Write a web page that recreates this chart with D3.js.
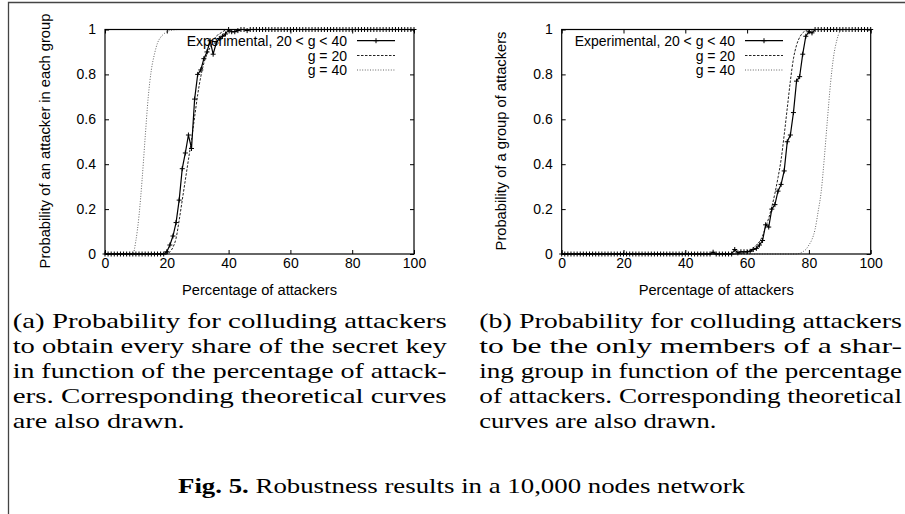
<!DOCTYPE html>
<html><head><meta charset="utf-8">
<script src="https://cdn.jsdelivr.net/npm/d3@7"></script>
<style>
html,body{margin:0;padding:0;background:#fff;}
svg{display:block;}
.sans{font-family:"Liberation Sans", Arial, Helvetica, sans-serif;font-size:14px;}
.title{font-family:"Liberation Sans", Arial, Helvetica, sans-serif;font-size:14.7px;}
.serif{font-family:"Liberation Serif", "Times New Roman", serif;font-size:22px;}
</style></head>
<body>
<svg id="fig" width="905" height="514"></svg>
<script>
// ---------------- DATA ----------------
const percentages = [0,1,2,3,4,5,6,7,8,9,10,11,12,13,14,15,16,17,18,19,20,21,22,23,24,25,26,27,28,29,30,31,32,33,34,35,36,37,38,39,40,41,42,43,44,45,46,47,48,49,50,51,52,53,54,55,56,57,58,59,60,61,62,63,64,65,66,67,68,69,70,71,72,73,74,75,76,77,78,79,80,81,82,83,84,85,86,87,88,89,90,91,92,93,94,95,96,97,98,99,100];

// (a) experimental: probability of an attacker in each group
const leftExperimental = [0,0,0,0,0,0,0,0,0,0, 0,0,0,0,0,0,0,0,0,0,
  0.01,0.04,0.08,0.14,0.24,0.38,0.45,0.53,0.47,0.69,
  0.80,0.82,0.87,0.90,0.95,0.89,0.94,0.96,0.97,0.98,
  1,0.99,0.99,0.995,1,1,0.995,1,1,1,
  1,1,1,1,1,1,1,1,1,1, 1,1,1,1,1,1,1,1,1,1,
  1,1,1,1,1,1,1,1,1,1, 1,1,1,1,1,1,1,1,1,1,
  1,1,1,1,1,1,1,1,1,1, 1];

// (b) experimental: probability of a group of attackers
const rightExperimental = [0,0,0,0,0,0,0,0,0,0, 0,0,0,0,0,0,0,0,0,0,
  0,0,0,0,0,0,0,0,0,0, 0,0,0,0,0,0,0,0,0,0,
  0,0,0,0,0,0,0,0,0,0.008,
  0,0,0,0,0,0,0.02,0.005,0.01,0.01,
  0.01,0.012,0.02,0.025,0.04,0.06,0.13,0.12,0.20,0.22,
  0.28,0.31,0.37,0.50,0.53,0.63,0.77,0.79,0.89,0.97,
  0.99,0.985,1,1,1,1,1,1,1,1, 1,1,1,1,1,1,1,1,1,1, 1];

// theoretical curves, [percentage, probability]
const leftG20 = [[0,0],[20,0],[21,0.01],[22,0.03],[23,0.07],[24,0.15],[25,0.24],[26,0.33],[27,0.42],[28,0.51],[29,0.61],[30,0.71],[31,0.79],[32,0.85],[33,0.89],[34,0.92],[35,0.95],[36,0.97],[37,0.98],[38,0.99],[40,1],[100,1]];
const leftG40 = [[0,0],[9,0],[10,0.06],[11,0.17],[12,0.33],[13,0.52],[14,0.70],[15,0.82],[16,0.89],[17,0.94],[18,0.965],[19,0.98],[20,0.99],[22,0.998],[24,1],[100,1]];
const rightG20 = [[0,0],[56,0],[58,0.003],[60,0.01],[61,0.018],[62,0.028],[63,0.04],[64,0.055],[65,0.08],[66,0.12],[67,0.16],[68,0.21],[69,0.27],[70,0.34],[71,0.42],[72,0.53],[73,0.65],[74,0.77],[75,0.87],[76,0.93],[77,0.965],[78,0.985],[79,0.995],[80,1],[100,1]];
const rightG40 = [[0,0],[76,0],[78,0.01],[79,0.02],[80,0.04],[81,0.065],[82,0.11],[83,0.19],[84,0.28],[85,0.43],[86,0.60],[87,0.76],[88,0.88],[89,0.95],[90,0.99],[91,1],[100,1]];

const xTicks = [0,20,40,60,80,100];
const yTicks = [0,0.2,0.4,0.6,0.8,1];
const yTickLabels = ["0","0.2","0.4","0.6","0.8","1"];
const legendLabels = ["Experimental, 20 < g < 40","g = 20","g = 40"];
const xAxisTitle = "Percentage of attackers";
const yAxisTitles = ["Probability of an attacker in each group","Probability of a group of attackers"];

const captionA = ["(a) Probability for colluding attackers","to obtain every share of the secret key","in function of the percentage of attack-","ers. Corresponding theoretical curves","are also drawn."];
const captionB = ["(b) Probability for colluding attackers","to be the only members of a shar-","ing group in function of the percentage","of attackers. Corresponding theoretical","curves are also drawn."];
const figLabel = "Fig. 5.";
const figText = " Robustness results in a 10,000 nodes network";

// ---------------- DRAW ----------------
const svg = d3.select("#fig");

// outer frame (cropped box)
svg.append("path").attr("d","M8.5,514V2.5H905").attr("fill","none").attr("stroke","#444").attr("stroke-width",1.3);

function drawPanel(cfg){
  const x = d3.scaleLinear().domain([0,100]).range([cfg.x0,cfg.x1]);
  const y = d3.scaleLinear().domain([0,1]).range([254,29.5]);
  const g = svg.append("g");

  const fmtY = d => yTickLabels[yTicks.indexOf(d)];
  const bottom = g.append("g").attr("transform",`translate(0,254)`)
    .call(d3.axisBottom(x).tickValues(xTicks).tickSize(-4).tickPadding(4.5));
  const top = g.append("g").attr("transform",`translate(0,29.5)`)
    .call(d3.axisTop(x).tickValues(xTicks).tickSize(-4).tickFormat(""));
  const left = g.append("g").attr("transform",`translate(${cfg.x0},0)`)
    .call(d3.axisLeft(y).tickValues(yTicks).tickSize(-4).tickPadding(9).tickFormat(fmtY));
  const right = g.append("g").attr("transform",`translate(${cfg.x1},0)`)
    .call(d3.axisRight(y).tickValues(yTicks).tickSize(-4).tickFormat(""));
  [bottom,top,left,right].forEach(a=>{
    a.attr("font-family",null).attr("font-size",null);
    a.select(".domain").remove();
    a.selectAll("line").attr("stroke","#000").attr("stroke-width",1);
    a.selectAll("text").attr("class","sans").attr("fill","#000");
  });

  // theoretical curves
  const line = d3.line().x(d=>x(d[0])).y(d=>y(d[1])).curve(d3.curveMonotoneX);
  g.append("path").datum(cfg.g40).attr("d",line).attr("fill","none")
    .attr("stroke","#666").attr("stroke-width",1).attr("stroke-dasharray","1,1.6");
  g.append("path").datum(cfg.g20).attr("d",line).attr("fill","none")
    .attr("stroke","#222").attr("stroke-width",1).attr("stroke-dasharray","2.5,1.5");

  // experimental curve
  const pts = percentages.map((p,i)=>[p,cfg.exp[i]]);
  const eline = d3.line().x(d=>x(d[0])).y(d=>y(d[1]));
  g.append("path").datum(pts).attr("d",eline).attr("fill","none")
    .attr("stroke","#000").attr("stroke-width",1.2);
  g.selectAll(".mk").data(pts).enter().append("path")
    .attr("transform",d=>`translate(${x(d[0])},${y(d[1])})`)
    .attr("d","M-2.5,0H2.5M0,-2.5V2.5").attr("stroke","#000").attr("stroke-width",1);

  // plot box
  g.append("rect").attr("x",cfg.x0).attr("y",29.5).attr("width",cfg.x1-cfg.x0).attr("height",254-29.5)
    .attr("fill","none").attr("stroke","#000").attr("stroke-width",1.2);

  // legend
  const rows = [40.7,55.5,70];
  const styles = [
    {stroke:"#000",dash:null,w:1.2},
    {stroke:"#222",dash:"2.5,1.5",w:1},
    {stroke:"#666",dash:"1,1.6",w:1}
  ];
  legendLabels.forEach((lab,i)=>{
    g.append("text").attr("class","sans").attr("x",cfg.legTextX).attr("y",rows[i]+5).attr("text-anchor","end")
      .attr("fill","#000").text(lab);
    g.append("line").attr("x1",cfg.legX0).attr("x2",cfg.legX1).attr("y1",rows[i]).attr("y2",rows[i])
      .attr("stroke",styles[i].stroke).attr("stroke-width",styles[i].w)
      .attr("stroke-dasharray",styles[i].dash);
  });
  g.append("path").attr("transform",`translate(${(cfg.legX0+cfg.legX1)/2},${rows[0]})`)
    .attr("d","M-2.5,0H2.5M0,-2.5V2.5").attr("stroke","#000").attr("stroke-width",1);

  // axis titles
  g.append("text").attr("class","title").attr("x",(cfg.x0+cfg.x1)/2).attr("y",295).attr("text-anchor","middle")
    .attr("fill","#000").text(xAxisTitle);
  g.append("text").attr("class","title").attr("transform",`translate(${cfg.yTitleX},141) rotate(-90)`).attr("text-anchor","middle")
    .attr("fill","#000").text(cfg.yTitle);

  // sub-caption
  const bases = [328,353,378,403,428];
  cfg.caption.forEach((t,i)=>{
    const last = i===cfg.caption.length-1;
    svg.append("text").attr("class","serif").attr("x",cfg.capX).attr("y",bases[i])
      .attr("fill","#000")
      .attr("textLength", last ? cfg.capLastW : cfg.capW)
      .attr("lengthAdjust","spacingAndGlyphs").text(t);
  });
}

drawPanel({x0:105,x1:414,exp:leftExperimental,g20:leftG20,g40:leftG40,
  legTextX:347,legX0:357,legX1:395,yTitleX:50,yTitle:yAxisTitles[0],
  caption:captionA,capX:12.7,capW:434,capLastW:172});
drawPanel({x0:561.7,x1:870.7,exp:rightExperimental,g20:rightG20,g40:rightG40,
  legTextX:735,legX0:745,legX1:783,yTitleX:505.5,yTitle:yAxisTitles[1],
  caption:captionB,capX:479.3,capW:422.7,capLastW:237});

// figure caption
const fc = svg.append("text").attr("class","serif").attr("x",178).attr("y",493)
  .attr("fill","#000")
  .attr("textLength",567).attr("lengthAdjust","spacingAndGlyphs");
fc.append("tspan").attr("font-weight","bold").text(figLabel);
fc.append("tspan").text(figText);
</script>
</body></html>
